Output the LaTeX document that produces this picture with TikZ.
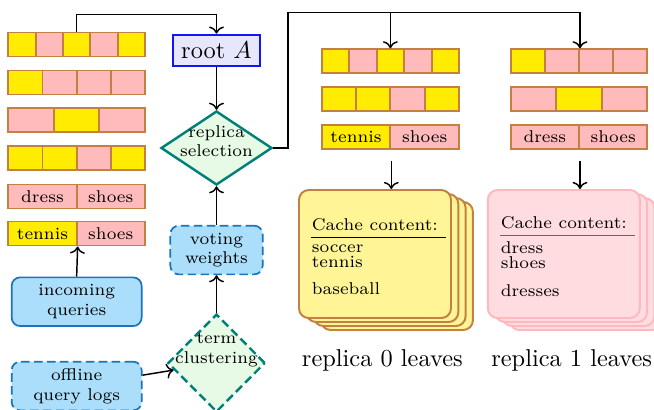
\documentclass[tikz,border=0pt]{standalone}
\usetikzlibrary{shapes.geometric,arrows.meta}
\definecolor{segY}{RGB}{255,236,0}
\definecolor{segP}{RGB}{255,187,187}
\definecolor{segB}{RGB}{196,128,66}
\definecolor{rootF}{RGB}{230,230,252}
\definecolor{rootB}{RGB}{20,20,245}
\definecolor{dmF}{RGB}{230,250,230}
\definecolor{dmB}{RGB}{0,128,120}
\definecolor{qF}{RGB}{170,222,250}
\definecolor{qB}{RGB}{30,115,190}
\definecolor{cY}{RGB}{255,245,150}
\definecolor{cP}{RGB}{255,220,224}
\definecolor{cPB}{RGB}{255,185,190}
\definecolor{ruleP}{RGB}{120,95,95}
\newcommand\sg[6]{\node[seg,fill=#5,minimum width={(#3-#2)*0.41pt}] (#1) at ({(#2+#3)/2},#4) {#6};}
\tikzset{
  seg/.style={draw=segB,line width=0.8pt,minimum height={24*0.41pt},inner sep=0pt,font=\scriptsize},
  arr/.style={->,line width=0.6pt},
  qbox/.style={draw=qB,fill=qF,line width=0.7pt,rounded corners=3.5pt,minimum width={130*0.41pt},minimum height={48.7*0.41pt},font=\scriptsize,align=center,inner sep=0pt},
  dsh/.style={dash pattern=on 3.5pt off 1.8pt},
  dm/.style={diamond,draw=dmB,fill=dmF,line width=1pt,inner sep=0pt},
  dmtext/.style={font=\scriptsize,align=center,inner sep=0pt},
  card/.style={rounded corners=4pt,line width=0.8pt,minimum width={152*0.41pt},minimum height={128*0.41pt},inner sep=0pt},
  ctext/.style={font=\scriptsize,anchor=base west,inner sep=0pt},
}
\begin{document}
\begin{tikzpicture}[x=0.41pt,y=-0.41pt]
\clip (0,0) rectangle (654,409);
\fill[white] (0,0) rectangle (654,409);
% left bars
\sg{l1a}{8.3}{35.64}{44.5}{segY}{}
\sg{l1b}{35.64}{62.98}{44.5}{segP}{}
\sg{l1c}{62.98}{90.32}{44.5}{segY}{}
\sg{l1d}{90.32}{117.66}{44.5}{segP}{}
\sg{l1e}{117.66}{145}{44.5}{segY}{}
\sg{l2a}{8.3}{42.475}{82.5}{segY}{}
\sg{l2b}{42.475}{76.65}{82.5}{segP}{}
\sg{l2c}{76.65}{110.825}{82.5}{segP}{}
\sg{l2d}{110.825}{145}{82.5}{segP}{}
\sg{l3a}{8.3}{53.87}{120}{segP}{}
\sg{l3b}{53.87}{99.43}{120}{segY}{}
\sg{l3c}{99.43}{145}{120}{segP}{}
\sg{l4a}{8.3}{42.475}{158}{segY}{}
\sg{l4b}{42.475}{76.65}{158}{segY}{}
\sg{l4c}{76.65}{110.825}{158}{segP}{}
\sg{l4d}{110.825}{145}{158}{segY}{}
\sg{l5a}{8.3}{76.65}{196.5}{segP}{dress}
\sg{l5b}{76.65}{145}{196.5}{segP}{shoes}
\sg{l6a}{8.3}{76.65}{233.5}{segY}{tennis}
\sg{l6b}{76.65}{145}{233.5}{segP}{shoes}
% replica 0 bars
\sg{r0a1}{321.7}{349.16}{61.3}{segY}{}
\sg{r0a2}{349.16}{376.62}{61.3}{segP}{}
\sg{r0a3}{376.62}{404.08}{61.3}{segY}{}
\sg{r0a4}{404.08}{431.54}{61.3}{segP}{}
\sg{r0a5}{431.54}{459}{61.3}{segY}{}
\sg{r0b1}{321.7}{356.025}{98.8}{segY}{}
\sg{r0b2}{356.025}{390.35}{98.8}{segY}{}
\sg{r0b3}{390.35}{424.675}{98.8}{segP}{}
\sg{r0b4}{424.675}{459}{98.8}{segY}{}
\sg{r0c1}{321.7}{390.35}{137}{segY}{tennis}
\sg{r0c2}{390.35}{459}{137}{segP}{shoes}
% replica 1 bars
\sg{r1a1}{510.7}{544.85}{61.3}{segY}{}
\sg{r1a2}{544.85}{579}{61.3}{segP}{}
\sg{r1a3}{579}{613.15}{61.3}{segP}{}
\sg{r1a4}{613.15}{647.3}{61.3}{segP}{}
\sg{r1b1}{510.7}{556.23}{98.8}{segP}{}
\sg{r1b2}{556.23}{601.77}{98.8}{segY}{}
\sg{r1b3}{601.77}{647.3}{98.8}{segP}{}
\sg{r1c1}{510.7}{579}{137}{segP}{dress}
\sg{r1c2}{579}{647.3}{137}{segP}{shoes}
% root
\node[draw=rootB,fill=rootF,line width=1.1pt,minimum width={87*0.41pt},minimum height={31*0.41pt},inner sep=0pt] (root) at (216.5,50.5) {root $A$};
% replica selection
\node[dm,minimum width={111*0.41pt},minimum height={74*0.41pt}] (sel) at (216.5,148) {};
\node[dmtext] (selt) at (216.5,141) {replica\\selection};
% voting weights
\node[qbox,dsh,minimum width={92.3*0.41pt}] (vote) at (216.5,250) {voting\\weights};
% term clustering
\node[dm,dsh,minimum width={97.4*0.41pt},minimum height={98*0.41pt}] (term) at (216.5,363) {};
\node[dmtext] (termt) at (216.5,350) {term\\clustering};
% query boxes
\node[qbox] (inc) at (76.65,301.7) {incoming\\queries};
\node[qbox,dsh] (off) at (76.65,386) {offline\\query logs};
% cards replica 0
\foreach \k in {3,2,1}{
  \node[card,draw=segB,fill=cY] (c0s\k) at ({375+7.3*\k},{254+4*\k}) {};
}
\node[card,draw=segB,fill=cY] (c0) at (375,254) {};
\node[ctext] (c0h) at (311.3,230) {Cache content:};
\draw[line width=0.6pt] (311.3,237.3) -- (446.3,237.3);
\node[ctext] (c0a) at (311.3,252.3) {soccer};
\node[ctext] (c0b) at (311.3,267.3) {tennis};
\node[ctext] (c0c) at (311.3,294) {baseball};
% cards replica 1
\foreach \k in {3,2,1}{
  \node[card,draw=cPB,fill=cP] (c1s\k) at ({563.8+7.3*\k},{254+4*\k}) {};
}
\node[card,draw=cPB,fill=cP] (c1) at (563.8,254) {};
\node[ctext] (c1h) at (500.3,228.3) {Cache content:};
\draw[line width=0.6pt,ruleP] (500.3,235.7) -- (635.3,235.7);
\node[ctext] (c1a) at (500.3,253.3) {dress};
\node[ctext] (c1b) at (500.3,268.3) {shoes};
\node[ctext] (c1c) at (500.3,296) {dresses};
% labels
\node (lab0) at (382.3,360) {replica 0 leaves};
\node (lab1) at (571.7,360) {replica 1 leaves};
% connectors
\coordinate (t1) at (76.65,14.5);
\draw[arr] (l1c.north) -- (l1c.north |- t1) -| (root.north);
\draw[arr] (root.south) -- (sel.north);
\coordinate (j) at (288,12.3);
\draw[arr] (sel.east) -| (j) -| (r1a2.north east);
\draw[arr] (r0a3.north |- j) -- (r0a3.north);
\draw[arr] ([yshift=-4.5pt]r0c1.south east) -- (c0.north -| r0c1.south east);
\draw[arr] ([yshift=-4.5pt]r1c1.south east) -- (c1.north -| r1c1.south east);
\draw[arr] (inc.north) -- (l6a.south east);
\draw[arr] (term.north) -- (vote.south);
\draw[arr] (vote.north) -- (sel.south);
\draw[arr] (off) -- (term);
\end{tikzpicture}
\end{document}
